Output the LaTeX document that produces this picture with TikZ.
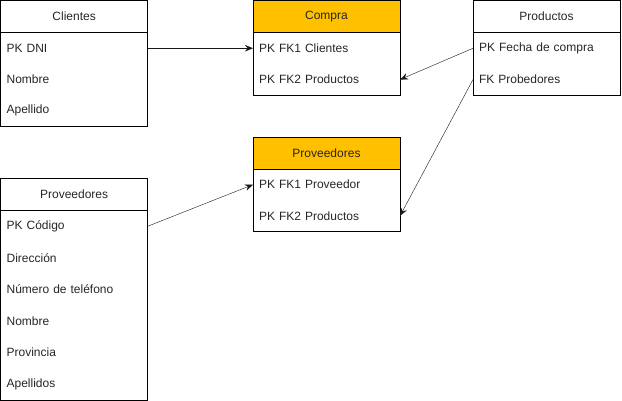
\documentclass[tikz,border=0pt]{standalone}
\usepackage{fontspec}
\setmainfont{Liberation Sans}
\usetikzlibrary{positioning, arrows.meta}
\definecolor{amarillo}{RGB}{255,192,0}

\begin{document}
\begin{tikzpicture}[
        x=1pt, y=-1pt,
        every node/.style={font=\fontsize{12}{14}\selectfont, text=black!85, inner sep=0pt, outer sep=0pt},
        cabecera/.style={draw, thick, minimum width=147pt, minimum height=32pt, anchor=north west},
        fila/.style={minimum height=31.3pt, text width=135pt, align=left, inner xsep=6pt, below=0pt of #1},
        filaalta/.style={fila=#1, minimum height=31.6pt},
        rel/.style={-{Stealth[length=8pt, width=6.5pt]}, black!90}
    ]
    \useasboundingbox (0,0) rectangle (622,401);

    \node[cabecera] (Cli) at (0.6,0.6) {Clientes};
    \node[fila=Cli] (Cli1) {PK DNI};
    \node[fila=Cli1] (Cli2) {Nombre};
    \node[fila=Cli2] (Cli3) {Apellido};
    \draw[thick] (Cli.north west) rectangle (Cli3.south east);

    \node[cabecera, fill=amarillo] (Com) at (253,0.6) {Compra};
    \node[fila=Com] (Com1) {PK FK1 Clientes};
    \node[fila=Com1] (Com2) {PK FK2 Productos};
    \draw[thick] (Com.north west) rectangle (Com2.south east);

    \node[cabecera] (Pro) at (473,0.6) {Productos};
    \node[fila=Pro] (Pro1) {PK Fecha de compra};
    \node[fila=Pro1] (Pro2) {FK Probedores};
    \draw[thick] (Pro.north west) rectangle (Pro2.south east);

    \node[cabecera, fill=amarillo] (PvR) at (253,137) {Proveedores};
    \node[fila=PvR] (PvR1) {PK FK1 Proveedor};
    \node[fila=PvR1] (PvR2) {PK FK2 Productos};
    \draw[thick] (PvR.north west) rectangle (PvR2.south east);

    \node[cabecera] (Prv) at (0.6,178.5) {Proveedores};
    \node[filaalta=Prv] (Prv1) {PK Código};
    \node[filaalta=Prv1] (Prv2) {Dirección};
    \node[filaalta=Prv2] (Prv3) {Número de teléfono};
    \node[filaalta=Prv3] (Prv4) {Nombre};
    \node[filaalta=Prv4] (Prv5) {Provincia};
    \node[filaalta=Prv5] (Prv6) {Apellidos};
    \draw[thick] (Prv.north west) rectangle (Prv6.south east);

    \draw[rel] (Cli1.east) -- (Com1.west);
    \draw[rel] (Pro1.west) -- (Com2.east);
    \draw[rel] (Pro2.west) -- (PvR2.east);
    \draw[rel] (Prv1.east) -- (PvR1.west);
\end{tikzpicture}
\end{document}
